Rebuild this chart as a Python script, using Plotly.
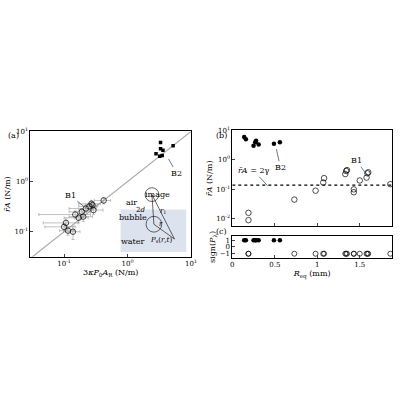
import plotly.graph_objects as go

# Panel (a)
a_fill_x = [2.8, 3.3, 3.2, 3.3, 3.6, 3.5, 5.2]
a_fill_y = [3.6, 6.0, 3.2, 4.5, 4.2, 3.3, 5.2]
a_open_x = [0.42, 0.27, 0.25, 0.29, 0.22, 0.19, 0.15, 0.20, 0.17, 0.107, 0.10, 0.115, 0.138, 0.28]
a_open_y = [0.42, 0.36, 0.32, 0.27, 0.29, 0.25, 0.22, 0.20, 0.19, 0.15, 0.125, 0.105, 0.10, 0.34]
a_open_xerr = [0.12, 0.10, 0.08, 0.12, 0.10, 0.07, 0.11, 0.08, 0.07, 0.06, 0.05, 0.03, 0.04, 0.06]
a_open_yerr = [0.06, 0.06, 0.05, 0.05, 0.05, 0.04, 0.04, 0.04, 0.04, 0.03, 0.02, 0.02, 0.03, 0.05]
diag = [0.03, 10]

# Panel (b)/(c)
b_fill_x = [0.14, 0.16, 0.25, 0.27, 0.28, 0.31, 0.49, 0.56]
b_fill_y = [6.0, 5.0, 3.0, 4.0, 4.5, 3.3, 3.5, 4.0]
b_open_x = [0.19, 0.19, 0.73, 0.98, 1.07, 1.08, 1.33, 1.34, 1.35, 1.43, 1.43, 1.50, 1.58, 1.59, 1.60, 1.86]
b_open_y = [0.016, 0.009, 0.045, 0.09, 0.17, 0.24, 0.33, 0.42, 0.45, 0.10, 0.08, 0.20, 0.25, 0.35, 0.38, 0.15]
two_gamma = 0.14
c_fill_sign = [1] * len(b_fill_x)
c_open_sign = [-1] * len(b_open_x)

F = "DejaVu Serif"
fig = go.Figure()
fig.add_trace(go.Scatter(x=diag, y=diag, mode="lines", line=dict(color="#aaaaaa", width=1.2), xaxis="x", yaxis="y"))
fig.add_trace(go.Scatter(x=a_open_x, y=a_open_y, mode="markers", xaxis="x", yaxis="y",
    marker=dict(symbol="circle-open", size=5.5, color="black", line=dict(width=0.7)),
    error_x=dict(type="data", array=a_open_xerr, color="#999", thickness=0.6, width=1.5),
    error_y=dict(type="data", array=a_open_yerr, color="#999", thickness=0.6, width=1.5)))
fig.add_trace(go.Scatter(x=a_fill_x, y=a_fill_y, mode="markers", xaxis="x", yaxis="y",
    marker=dict(symbol="square", size=3.5, color="black")))
fig.add_trace(go.Scatter(x=[0, 1.88], y=[two_gamma, two_gamma], mode="lines", xaxis="x2", yaxis="y2",
    line=dict(color="black", width=1.2, dash="dot")))
fig.add_trace(go.Scatter(x=b_open_x, y=b_open_y, mode="markers", xaxis="x2", yaxis="y2",
    marker=dict(symbol="circle-open", size=5.5, color="black", line=dict(width=0.7))))
fig.add_trace(go.Scatter(x=b_fill_x, y=b_fill_y, mode="markers", xaxis="x2", yaxis="y2",
    marker=dict(symbol="circle", size=4.5, color="black")))
fig.add_trace(go.Scatter(x=b_open_x, y=c_open_sign, mode="markers", xaxis="x3", yaxis="y3",
    marker=dict(symbol="circle-open", size=5, color="black", line=dict(width=0.7))))
fig.add_trace(go.Scatter(x=b_fill_x, y=c_fill_sign, mode="markers", xaxis="x3", yaxis="y3",
    marker=dict(symbol="circle", size=4.5, color="black")))

ax = dict(showline=True, linecolor="black", linewidth=0.8, mirror=True, ticks="inside", ticklen=3,
          showgrid=False, zeroline=False, tickfont=dict(family=F, size=7, color="black"))
def t(s): return dict(text=s, font=dict(family=F, size=8, color="black"), standoff=2)

YL = "<i>r̄A</i> (N/m)"
fig.update_layout(
    width=400, height=400, margin=dict(l=0, r=0, t=0, b=0), showlegend=False,
    plot_bgcolor="white", paper_bgcolor="white",
    xaxis=dict(ax, type="log", domain=[0.0725, 0.4825], range=[-1.53, 1], anchor="y",
               tickvals=[0.1, 1, 10], ticktext=["10<sup>-1</sup>", "10<sup>0</sup>", "10<sup>1</sup>"],
               title=t("3<i>κP</i><sub>0</sub><i>A</i><sub>R</sub> (N/m)")),
    yaxis=dict(ax, type="log", domain=[0.3625, 0.68], range=[-1.5, 1], anchor="x",
               tickvals=[0.1, 1, 10], ticktext=["10<sup>-1</sup>", "10<sup>0</sup>", "10<sup>1</sup>"],
               title=t(YL)),
    xaxis2=dict(ax, domain=[0.5875, 0.995], range=[0, 1.88], anchor="y2", showticklabels=False,
                tickvals=[0, 0.5, 1, 1.5]),
    yaxis2=dict(ax, type="log", domain=[0.44, 0.6825], range=[-2.25, 1], anchor="x2",
                tickvals=[0.01, 0.1, 1, 10],
                ticktext=["10<sup>-2</sup>", "10<sup>-1</sup>", "10<sup>0</sup>", "10<sup>1</sup>"],
                title=t(YL)),
    xaxis3=dict(ax, domain=[0.5875, 0.995], range=[0, 1.88], anchor="y3",
                tickvals=[0, 0.5, 1, 1.5], ticktext=["0", "0.5", "1", "1.5"],
                title=t("<i>R</i><sub>eq</sub> (mm)")),
    yaxis3=dict(ax, domain=[0.36, 0.415], range=[-1.6, 1.6], anchor="x3",
                tickvals=[-1, 0, 1], title=t("sign(<i>P</i><sub>λ</sub>)")),
)

def dx(x): return (x - 29) / 164
def dy(y): return (255 - y) / 127
R = dict(xref="x domain", yref="y domain")
shapes = [
    dict(type="rect", **R, x0=dx(121), x1=dx(188), y0=dy(250), y1=dy(207),
         fillcolor="#dde3ee", line=dict(width=0), layer="below"),
    dict(type="circle", **R, x0=dx(146), x1=dx(160), y0=dy(199), y1=dy(185),
         line=dict(color="black", width=0.6)),
    dict(type="circle", **R, x0=dx(147), x1=dx(163), y0=dy(230), y1=dy(214),
         line=dict(color="black", width=0.6)),
]
for (x0, y0, x1, y1) in [(153, 192, 155, 222), (153, 192, 176, 237), (155, 222, 176, 237)]:
    shapes.append(dict(type="line", **R, x0=dx(x0), y0=dy(y0), x1=dx(x1), y1=dy(y1),
                       line=dict(color="black", width=0.6)))
fig.update_layout(shapes=shapes)

def txt(x, y, s, size=8, ref="a"):
    if ref == "a":
        fig.add_annotation(x=dx(x), y=dy(y), xref="x domain", yref="y domain", text=s, showarrow=False,
                           font=dict(family=F, size=size, color="black"))
    else:
        fig.add_annotation(x=(x - 235) / 163, y=(224 - y) / 97, xref="x2 domain", yref="y2 domain",
                           text=s, showarrow=False, font=dict(family=F, size=size, color="black"))
def arr(x, y, ax_, ay_, s, ref="a"):
    if ref == "a":
        X, Y, xr, yr = dx(ax_), dy(ay_), "x domain", "y domain"
    else:
        X, Y, xr, yr = (ax_ - 235) / 163, (224 - ay_) / 97, "x2 domain", "y2 domain"
    fig.add_annotation(x=X, y=Y, ax=x - ax_, ay=y - ay_, xref=xr, yref=yr,
                       axref="pixel", ayref="pixel", text=s, showarrow=True, arrowhead=0,
                       arrowwidth=0.7, font=dict(family=F, size=8, color="black"))
txt(4, 126, "(a)", 8); txt(216, 126, "(b)", 8, "b"); txt(216, 236, "(c)", 8, "b")
txt(132, 200, "air"); txt(134, 222, "bubble"); txt(134, 246, "water")
txt(173, 192, "image"); txt(148, 208, "2<i>d</i>", 7); txt(169, 209, "<i>r</i><sub>1</sub>", 7)
txt(166, 228, "<i>r</i>", 7); txt(176, 244, "<i>P</i><sub>s</sub>(<i>r</i>,<i>t</i>)", 7)
arr(178, 170, 170, 156, "B2"); arr(70, 193, 86, 206, "B1")
arr(257, 168, 271, 183, "<i>r̄A</i> = 2γ", "b"); arr(284, 164, 280, 146, "B2", "b")
arr(362, 158, 373, 173, "B1", "b")
fig.write_html("out.html", config={"displayModeBar": False})
with open("out.html") as f:
    h = f.read()
h = h.replace("<body>", '<body style="margin:0;padding:0">', 1)
with open("out.html", "w") as f:
    f.write(h)
